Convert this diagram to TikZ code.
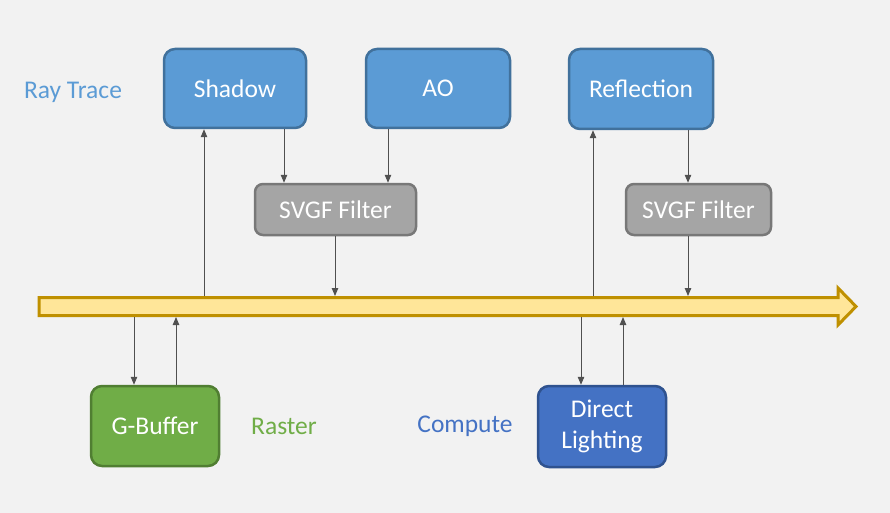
\documentclass[tikz,border=0pt]{standalone}
\usepackage{fontspec}
\setmainfont{Carlito}
\usetikzlibrary{arrows.meta}
\definecolor{bg}{HTML}{F2F2F2}
\definecolor{rtfill}{HTML}{5B9BD5}
\definecolor{rtline}{HTML}{41719C}
\definecolor{gyfill}{HTML}{A5A5A5}
\definecolor{gyline}{HTML}{787878}
\definecolor{gnfill}{HTML}{70AD47}
\definecolor{gnline}{HTML}{507E32}
\definecolor{dbfill}{HTML}{4472C4}
\definecolor{dbline}{HTML}{2F528F}
\definecolor{arfill}{HTML}{FFE699}
\definecolor{arline}{HTML}{BF9000}
\definecolor{conncol}{HTML}{505050}
\tikzset{
  box/.style={rectangle, rounded corners=11pt, line width=2.5pt, text=white,
    font=\fontsize{25.5}{31}\selectfont, align=center, inner sep=0pt},
  rtbox/.style={box, fill=rtfill, draw=rtline},
  gybox/.style={box, fill=gyfill, draw=gyline, rounded corners=8pt},
  gnbox/.style={box, fill=gnfill, draw=gnline},
  dbbox/.style={box, fill=dbfill, draw=dbline},
  lab/.style={font=\fontsize{25.5}{31}\selectfont, inner sep=0pt},
  conn/.style={draw=conncol, line width=0.9pt, -{Triangle[width=6.5pt,length=8pt]}},
}
\begin{document}
\begin{tikzpicture}[x=1pt,y=-1pt]
\fill[bg] (0,0) rectangle (890,513);
\useasboundingbox (0,0) rectangle (890,513);
% timeline arrow
\draw[line width=3pt, draw=arline, fill=arfill, line join=miter]
  (39,297.5) -- (838,297.5) -- (838,288) -- (856,306.5) -- (838,325) -- (838,315.5) -- (39,315.5) -- cycle;
% boxes
\node[rtbox, minimum width=142pt, minimum height=79pt] (Shadow) at (235,88.5) {Shadow};
\node[rtbox, minimum width=144pt, minimum height=79pt] (AO) at (438,88.5) {AO};
\node[rtbox, minimum width=144pt, minimum height=80pt] (Refl) at (641,89) {Reflection};
\node[gybox, minimum width=161pt, minimum height=51pt] (F1) at (335.5,209.5) {SVGF Filter};
\node[gybox, minimum width=145pt, minimum height=51pt] (F2) at (698.5,209.5) {SVGF Filter};
\node[gnbox, minimum width=128pt, minimum height=80pt] (GB) at (155,426) {G-Buffer};
\node[dbbox, minimum width=128pt, minimum height=81pt] (DL) at (602,426.5) {Direct\\Lighting};
% labels
\node[lab, text=rtfill] (lRT) at (73,92) {Ray Trace};
\node[lab, text=gnfill] (lRA) at (284,426) {Raster};
\node[lab, text=dbfill] (lCO) at (465,426) {Compute};
% timeline points
\coordinate (tShadow) at (204,296);
\coordinate (tF1) at (335,296);
\coordinate (tRefl) at (593,296);
\coordinate (tF2) at (688,296);
\coordinate (bGBdown) at (134,317);
\coordinate (bGBup) at (176,317);
\coordinate (bDLdown) at (581,317);
\coordinate (bDLup) at (623,317);
\coordinate (xS) at (284,0);
\coordinate (xA) at (388,0);
\coordinate (xR) at (688,0);
% connectors
\draw[conn] (tShadow) -- (tShadow |- Shadow.south);
\draw[conn] (Shadow.south -| xS) -- (F1.north -| xS);
\draw[conn] (AO.south -| xA) -- (F1.north -| xA);
\draw[conn] (F1.south -| tF1) -- (tF1);
\draw[conn] (tRefl) -- (tRefl |- Refl.south);
\draw[conn] (Refl.south -| xR) -- (F2.north -| xR);
\draw[conn] (F2.south -| tF2) -- (tF2);
\draw[conn] (bGBdown) -- (bGBdown |- GB.north);
\draw[conn] (bGBup |- GB.north) -- (bGBup);
\draw[conn] (bDLdown) -- (bDLdown |- DL.north);
\draw[conn] (bDLup |- DL.north) -- (bDLup);
\end{tikzpicture}
\end{document}
